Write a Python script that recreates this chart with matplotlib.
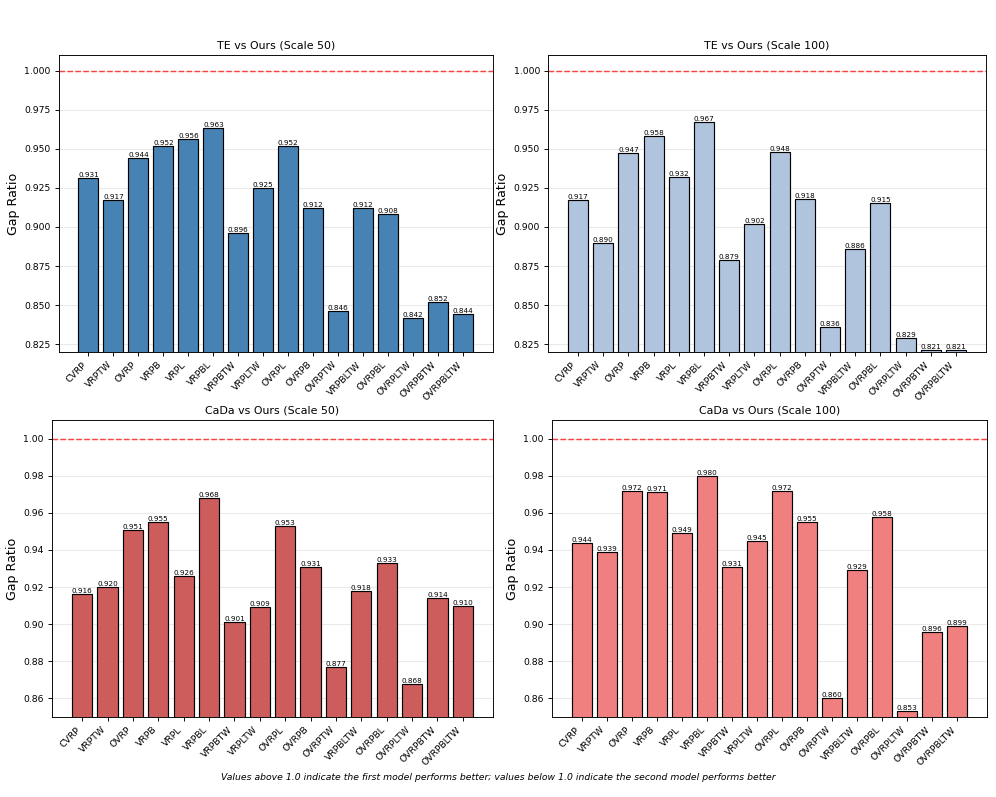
import matplotlib
matplotlib.use("Agg")
import matplotlib.pyplot as plt
import numpy as np
from matplotlib.ticker import FormatStrFormatter

problems = ["CVRP", "VRPTW", "OVRP", "VRPB", "VRPL", "VRPBL", "VRPBTW", "VRPLTW",
            "OVRPL", "OVRPB", "OVRPTW", "VRPBLTW", "OVRPBL", "OVRPLTW", "OVRPBTW", "OVRPBLTW"]

te_50 = [0.931, 0.917, 0.944, 0.952, 0.956, 0.963, 0.896, 0.925, 0.952, 0.912, 0.846, 0.912, 0.908, 0.842, 0.852, 0.844]
te_100 = [0.917, 0.890, 0.947, 0.958, 0.932, 0.967, 0.879, 0.902, 0.948, 0.918, 0.836, 0.886, 0.915, 0.829, 0.821, 0.821]
cada_50 = [0.916, 0.920, 0.951, 0.955, 0.926, 0.968, 0.901, 0.909, 0.953, 0.931, 0.877, 0.918, 0.933, 0.868, 0.914, 0.910]
cada_100 = [0.944, 0.939, 0.972, 0.971, 0.949, 0.980, 0.931, 0.945, 0.972, 0.955, 0.860, 0.929, 0.958, 0.853, 0.896, 0.899]

titles = ["TE vs Ours (Scale 50)", "TE vs Ours (Scale 100)", "CaDa vs Ours (Scale 50)", "CaDa vs Ours (Scale 100)"]
series = [te_50, te_100, cada_50, cada_100]
colors = ["steelblue", "lightsteelblue", "indianred", "lightcoral"]
ylims = [(0.82, 1.01), (0.82, 1.01), (0.85, 1.01), (0.85, 1.01)]
yfmt = ["%.3f", "%.3f", "%.2f", "%.2f"]

W, H = 996, 797
DPI = 83
fig = plt.figure(figsize=(W / DPI, H / DPI), dpi=DPI)

# pixel boxes: left, right, top, bottom
boxes = [(58.7, 493, 55, 352), (548, 986, 55, 352), (52, 493, 420, 717), (552, 987, 420, 717)]

for i in range(4):
    l, r, t, b = boxes[i]
    ax = fig.add_axes([l / W, 1 - b / H, (r - l) / W, (b - t) / H])
    x = np.arange(len(problems))
    vals = series[i]
    ax.bar(x, vals, width=0.8, color=colors[i], edgecolor="black", linewidth=1)
    for xi, v in zip(x, vals):
        ax.text(xi, v, f"{v:.3f}", ha="center", va="bottom", fontsize=6.3)
    ax.axhline(1.0, color="red", linestyle="--", alpha=0.7, linewidth=1.3)
    ax.set_ylim(*ylims[i])
    ax.set_title(titles[i], fontsize=9.6)
    ax.set_ylabel("Gap Ratio", fontsize=11)
    ax.set_xticks(x)
    ax.set_xticklabels(problems, rotation=45, ha="right", fontsize=8)
    ax.tick_params(axis="y", labelsize=8)
    ax.yaxis.set_major_formatter(FormatStrFormatter(yfmt[i]))
    ax.grid(axis="y", alpha=0.3)
    ax.set_axisbelow(True)

fig.text(0.5, 1 - 777 / H,
         "Values above 1.0 indicate the first model performs better; values below 1.0 indicate the second model performs better",
         ha="center", va="center", fontsize=8, style="italic")

fig.savefig("out.png", dpi=DPI)
